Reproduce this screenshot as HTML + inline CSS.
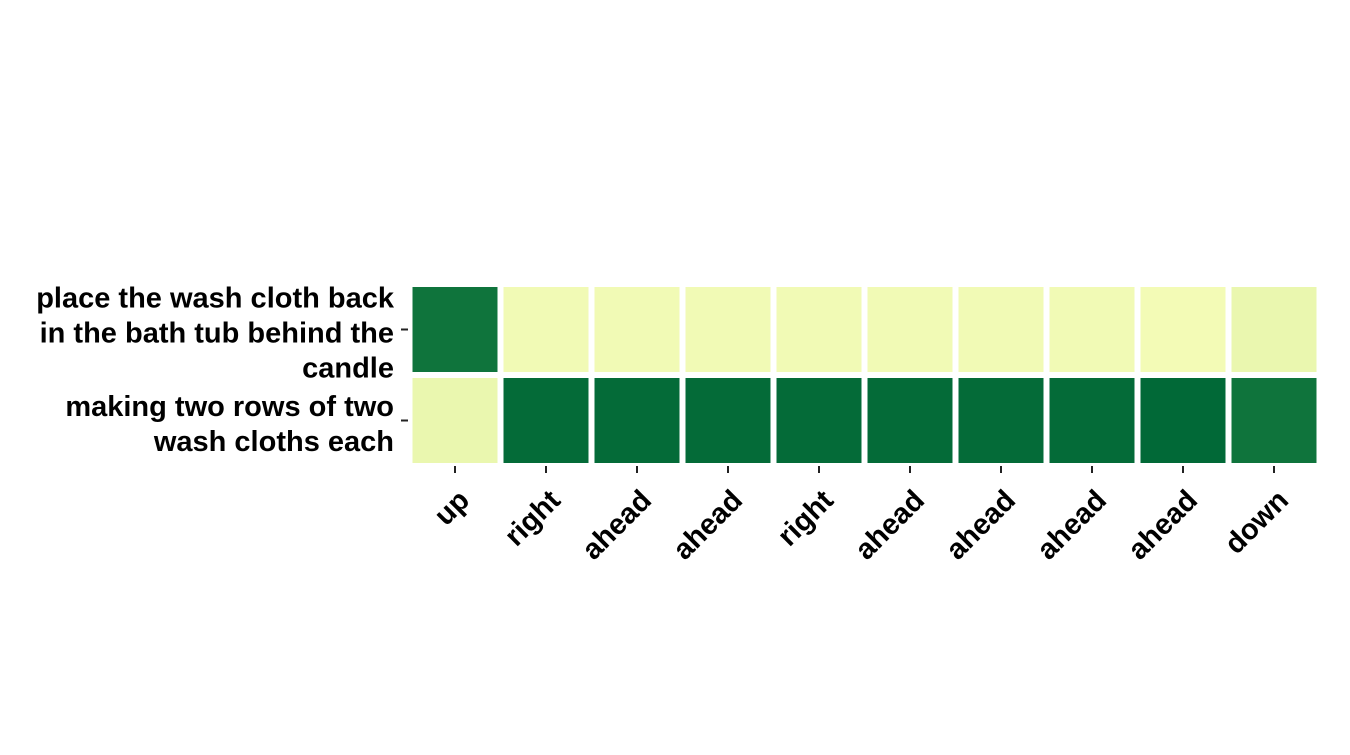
<!DOCTYPE html>
<html><head><meta charset="utf-8"><style>
body{margin:0;background:#fff;}
svg text{font-family:"Liberation Sans",sans-serif;font-weight:bold;fill:#000;}
</style></head><body>
<svg id="chart" width="1350" height="750" xmlns="http://www.w3.org/2000/svg"></svg>
<script>
const columns = ["up","right","ahead","ahead","right","ahead","ahead","ahead","ahead","down"];
const rowLabels = [["place the wash cloth back","in the bath tub behind the","candle"],["making two rows of two","wash cloths each"]];
const rowTop = [0.82,0.15,0.15,0.15,0.15,0.15,0.15,0.15,0.14,0.18];
const rowBottom = [0.18,0.86,0.86,0.86,0.86,0.86,0.86,0.86,0.87,0.82];
const values = [rowTop,rowBottom];
const stops=[[0,"#ffffe5"],[0.125,"#f7fcb9"],[0.25,"#d9f0a3"],[0.375,"#addd8e"],[0.5,"#78c679"],[0.625,"#41ab5d"],[0.75,"#238443"],[0.875,"#006837"],[1,"#004529"]];
function hex(h){return [1,3,5].map(i=>parseInt(h.substr(i,2),16));}
function cmap(v){for(let i=0;i<stops.length-1;i++){const[a,ca]=stops[i],[b,cb]=stops[i+1];if(v<=b){const t=(v-a)/(b-a),x=hex(ca),y=hex(cb);return "rgb("+x.map((c,k)=>Math.round(c+(y[k]-c)*t)).join(",")+")";}}return stops[stops.length-1][1];}
const x0=409.5,x1=1319.5,y0=284,y1=466;
const cw=(x1-x0)/columns.length, rh=(y1-y0)/values.length;
const xs=i=>x0+i*cw, ys=j=>y0+j*rh;
const svg=document.getElementById('chart');const NS="http://www.w3.org/2000/svg";
function mk(t,a){const e=document.createElementNS(NS,t);for(const k in a)e.setAttribute(k,a[k]);svg.appendChild(e);return e;}
values.forEach((row,j)=>row.forEach((v,i)=>{
 const r=mk('rect',{x:xs(i),y:ys(j),width:cw,height:rh,fill:cmap(v),stroke:'#fff','stroke-width':6});
 
 
}));
columns.forEach((c,i)=>{
 const cx=xs(i)+cw/2;
 const t=mk('line',{x1:cx,x2:cx,y1:466,y2:473,stroke:'#222','stroke-width':2});
 
 
 const tx=mk('text',{x:0,y:0,'text-anchor':'end','font-size':29,transform:`translate(${cx+16},${502}) rotate(-45)`});
 tx.textContent=c;
 
 
});
rowLabels.forEach((lines,j)=>{
 const cy=ys(j)+rh/2;
 const t=mk('line',{x1:401,x2:408,y1:cy,y2:cy,stroke:'#222','stroke-width':2});
 
 
 const n=lines.length,lh=35;
 lines.forEach((l,k)=>{
  const tx=mk('text',{x:394,y:cy+(k-(n-1)/2)*lh+13,'text-anchor':'end','font-size':29});
  tx.textContent=l;
  
  
 });
});
</script>
</body></html>
